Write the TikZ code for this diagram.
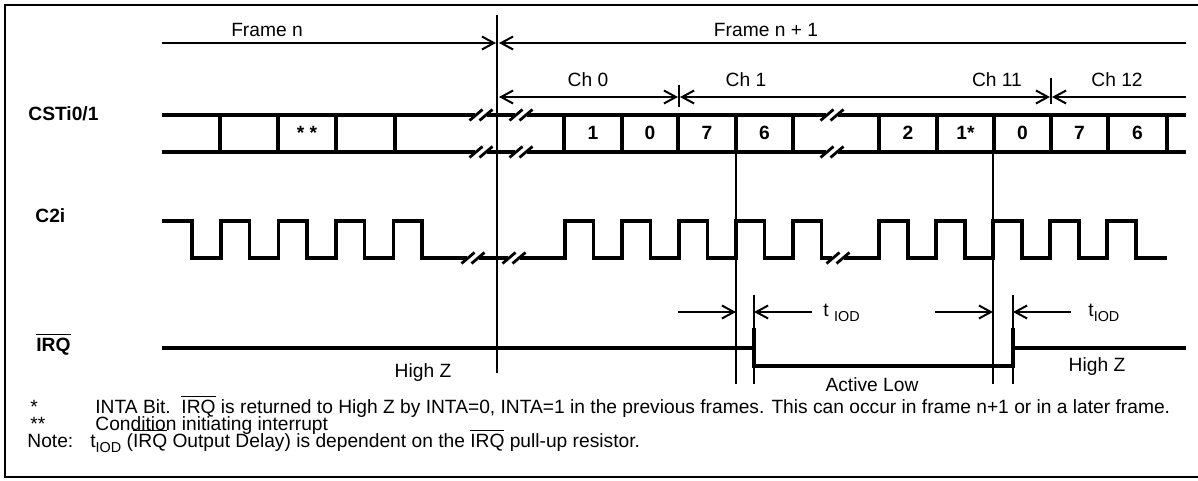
\documentclass[tikz,border=0pt]{standalone}
\usepackage{fontspec}
\setmainfont{Liberation Sans}
\usetikzlibrary{arrows.meta,positioning}

\newcommand{\ovl}[1]{\leavevmode\vbox{\hrule height 0.8pt\kern1.1pt\hbox{#1}}}
\newcommand{\lowtxt}[1]{\raisebox{-2.5pt}{\fontsize{7.2}{8}\selectfont #1}}
\newcommand{\fs}{\fontsize{9.6}{10}\selectfont}
\newcommand{\fn}{\fontsize{9.6}{10}\selectfont}

\tikzset{
  barb/.tip={Straight Barb[length=6pt,width=6.5pt,line width=1pt]},
  sig/.style={line width=1.65pt},
  thinline/.style={line width=0.85pt},
  span/.style={line width=1.35pt},
  delay/.style={line width=1pt,-barb},
  cut/.style={line width=1.4pt},
  lbl/.style={font=\fs\bfseries, anchor=base west},
  txt/.style={font=\fs, anchor=base},
  cell/.style={font=\fs\bfseries, anchor=base},
  note/.style={font=\fn, anchor=base west},
}

\begin{document}
\begin{tikzpicture}[x=0.5pt,y=-0.5pt,every node/.style={inner sep=0pt}]
    \useasboundingbox (0,0) rectangle (1198,481);
    % Border
    \draw[line width=1pt] (1198,5) -- (5,5) -- (5,477) -- (1198,477);

    % Frames
    \draw[span,-barb] (162,43) -- (496,43);
    \draw[span,-barb] (1186,43) -- (499,43);
    \node[txt] (framen) at (267,37) {Frame n};
    \node[txt] (framen1) at (766,37) {Frame n + 1};
    \draw[thinline] (497,15) -- (497,373);

    % Channels
    \draw[span,barb-barb] (499,97) -- (678,97);
    \draw[span,barb-barb] (680,97) -- (1050,97);
    \draw[span,-barb] (1186,97) -- (1052,97);
    \draw[thinline] (679,85) -- (679,107);
    \draw[thinline] (1051,78) -- (1051,104);
    \node[txt] (ch0) at (588,87) {Ch 0};
    \node[txt] (ch1) at (746,87) {Ch 1};
    \node[txt] (ch11) at (997,87) {Ch 11};
    \node[txt] (ch12) at (1117,87) {Ch 12};

    % CSTi0/1
    \node[lbl] (csti) at (28,120) {CSTi0/1};
    \foreach \yy in {115,152} {
        \draw[sig] (162,\yy) -- (475,\yy);
        \draw[sig] (487,\yy) -- (515,\yy);
        \draw[sig] (527,\yy) -- (826,\yy);
        \draw[sig] (838,\yy) -- (1186,\yy);
    }
    \foreach \x in {220,278,336,395,564,622,678,736,793,879,937,994,1051,1108,1167} \draw[sig] (\x,115) -- (\x,152);
    \foreach \cx in {481,521,832} \foreach \yy in {115,152} {
        \draw[cut] (\cx-11.5,\yy+5.5) -- (\cx+1.5,\yy-5.5);
        \draw[cut] (\cx-1.5,\yy+5.5) -- (\cx+11.5,\yy-5.5);
    }
    \foreach \x/\t [count=\i] in {307/{* *},593/1,650/0,707/7,764.5/6,908/2,965.5/1*,1022.5/0,1079.5/7,1137.5/6}
        \node[cell] (bit\i) at (\x,140) {\t};

    % C2i
    \node[lbl] (c2i) at (35,222) {C2i};
    \draw[sig] (162,221) foreach \x in {192,249.5,307,364.5} { -- (\x,221) -- (\x,258) -- (\x+29,258) -- (\x+29,221) } -- (422,221) -- (422,258) -- (467,258);
    \draw[sig] (479,258) -- (508,258);
    \draw[sig] (520,258) foreach \x in {565,622,679,736,793} { -- (\x,258) -- (\x,221) -- (\x+28.6,221) -- (\x+28.6,258) } -- (832,258);
    \draw[sig] (844,258) foreach \x in {879,936,993,1050,1107} { -- (\x,258) -- (\x,221) -- (\x+29,221) -- (\x+29,258) } -- (1167,258);
    \foreach \cx in {473,514,838} {
        \draw[cut] (\cx-11.5,263.5) -- (\cx+1.5,252.5);
        \draw[cut] (\cx-1.5,263.5) -- (\cx+11.5,252.5);
    }
    \draw[thinline] (736,152) -- (736,384);
    \draw[thinline] (993,152) -- (993,384);

    % IRQ
    \node[lbl] (irq) at (36,351) {\ovl{IRQ}};
    \draw[sig] (162,348) -- (754,348);
    \draw[sig] (754,348) -- (754,366) -- (1013,366) -- (1013,348);
    \draw[line width=2pt] (754,328) -- (754,366);
    \draw[line width=2pt] (1013,328) -- (1013,366);
    \draw[sig] (1013,348) -- (1186,348);
    \draw[thinline] (754,295) -- (754,384);
    \draw[thinline] (1013,295) -- (1013,384);
    \draw[delay] (678,312) -- (736,312);
    \draw[delay] (812,312) -- (754,312);
    \draw[delay] (935,312) -- (993,312);
    \draw[delay] (1071,312) -- (1013,312);
    \node[txt,anchor=base west] (tiod1) at (823,316) {t \lowtxt{IOD}};
    \node[txt,anchor=base west] (tiod2) at (1088,316) {t\lowtxt{IOD}};
    \node[txt] (hz1) at (423,377) {High Z};
    \node[txt] (actlow) at (872,391) {Active Low};
    \node[txt] (hz2) at (1097,371) {High Z};

    % Notes
    \node[note] (star1) at (30,413) {*};
    \node[note] (note1) at (95,413) {INTA Bit.\ \ \ovl{IRQ} is returned to High Z by INTA=0, INTA=1 in the previous frames. This can occur in frame n+1 or in a later frame.};
    \node[note] (star2) at (30,430) {**};
    \node[note] (note2) at (95,430) {Condition initiating interrupt};
    \node[note] (notelbl) at (27,447) {Note:};
    \node[note] (note3) at (90,447) {t\lowtxt{IOD} (\ovl{IRQ} Output Delay) is dependent on the \ovl{IRQ} pull-up resistor.};
\end{tikzpicture}
\end{document}
